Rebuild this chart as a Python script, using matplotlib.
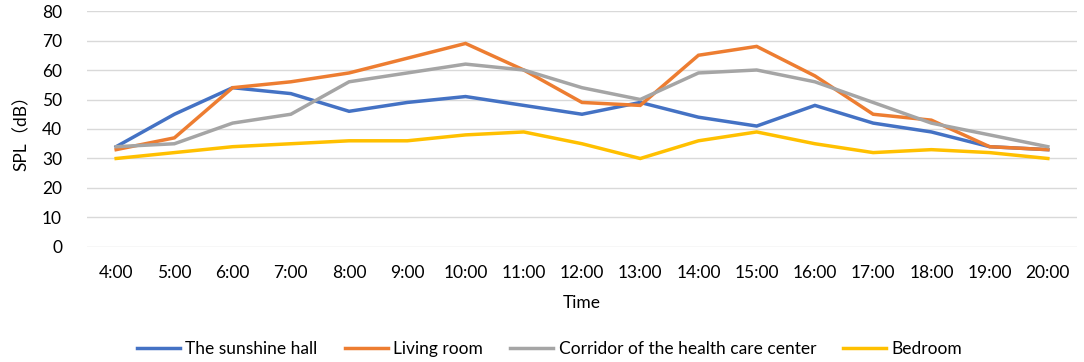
import matplotlib
matplotlib.use("Agg")
import matplotlib.pyplot as plt

times = ["4:00", "5:00", "6:00", "7:00", "8:00", "9:00", "10:00", "11:00", "12:00",
         "13:00", "14:00", "15:00", "16:00", "17:00", "18:00", "19:00", "20:00"]
sunshine_hall = [34, 45, 54, 52, 46, 49, 51, 48, 45, 49, 44, 41, 48, 42, 39, 34, 33]
living_room = [33, 37, 54, 56, 59, 64, 69, 60, 49, 48, 65, 68, 58, 45, 43, 34, 33]
corridor = [34, 35, 42, 45, 56, 59, 62, 60, 54, 50, 59, 60, 56, 49, 42, 38, 34]
bedroom = [30, 32, 34, 35, 36, 36, 38, 39, 35, 30, 36, 39, 35, 32, 33, 32, 30]

series = [
    ("The sunshine hall", sunshine_hall, "#4472C4"),
    ("Living room", living_room, "#ED7D31"),
    ("Corridor of the health care center", corridor, "#A5A5A5"),
    ("Bedroom", bedroom, "#FFC000"),
]

plt.rcParams['font.family'] = ['Lato', 'Noto Sans CJK SC', 'DejaVu Sans']

fig = plt.figure(figsize=(10.84, 3.62), dpi=100)
ax = fig.add_axes([0.0803, 0.3177, 0.9132, 0.6519])

x = list(range(len(times)))
for name, vals, color in series:
    ax.plot(x, vals, color=color, lw=2.5, label=name, solid_joinstyle='miter')

ax.set_xlim(-0.5, len(times) - 0.5)
ax.set_ylim(0, 80)
ax.set_yticks(range(0, 81, 10))
ax.set_xticks(x)
ax.set_xticklabels(times)
ax.grid(axis='y', color='#D9D9D9', lw=1.0)
ax.set_axisbelow(True)
for s in ax.spines.values():
    s.set_visible(False)
ax.tick_params(length=0, labelsize=12.5, colors='#000000')
ax.tick_params(axis='x', pad=13)
ax.tick_params(axis='y', pad=18)
ax.set_xlabel("Time", fontsize=12.5, labelpad=10)
ax.set_ylabel("SPL（dB）", fontsize=12.5, labelpad=9)

fig.legend(loc='center', bbox_to_anchor=(0.507, 0.036), ncol=4, frameon=False,
           fontsize=12.5, handlelength=2.5, columnspacing=1.55, handletextpad=0.3)

fig.savefig("out.png", dpi=100)
